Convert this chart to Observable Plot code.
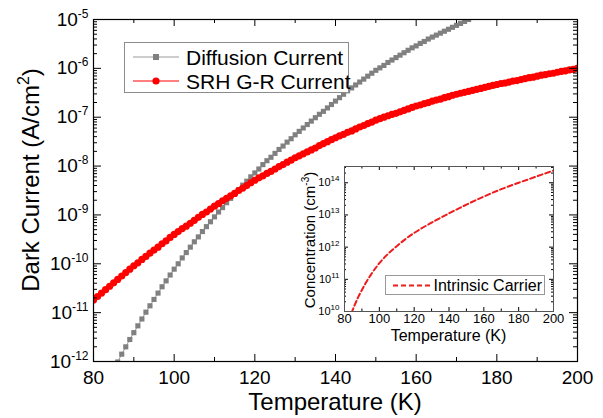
<!DOCTYPE html>
<html><head><meta charset="utf-8">
<script src="https://cdn.jsdelivr.net/npm/d3@7"></script>
<script src="https://cdn.jsdelivr.net/npm/@observablehq/plot@0.6"></script>
<style>
html,body{margin:0;padding:0;background:#fff;}
#wrap{position:relative;width:603px;height:418px;overflow:hidden;}
#inset{position:absolute;left:280px;top:150px;}
svg{display:block;}
</style></head><body>
<div id="wrap"><div id="main"></div><div id="inset"></div></div>
<script>
// ---------- data (log10 of the quantity) ----------
// Main chart: sampling grid in K (one marker per kelvin)
const srhStartT = 80;
// SRH G-R current, log10(A/cm^2), T = 80..200
const srhLog = [
 -10.74,-10.67,-10.60,-10.53,-10.46,-10.39,-10.32,-10.25,-10.18,-10.11,
 -10.04,-9.98,-9.91,-9.85,-9.78,-9.72,-9.66,-9.59,-9.53,-9.46,
 -9.40,-9.34,-9.28,-9.23,-9.17,-9.11,-9.05,-8.99,-8.94,-8.88,
 -8.82,-8.77,-8.71,-8.66,-8.61,-8.56,-8.50,-8.45,-8.40,-8.34,
 -8.29,-8.24,-8.20,-8.15,-8.11,-8.06,-8.01,-7.97,-7.92,-7.88,
 -7.83,-7.79,-7.75,-7.71,-7.67,-7.63,-7.58,-7.54,-7.50,-7.46,
 -7.42,-7.38,-7.35,-7.31,-7.28,-7.24,-7.20,-7.17,-7.13,-7.10,
 -7.06,-7.03,-7.00,-6.97,-6.94,-6.92,-6.89,-6.86,-6.83,-6.80,
 -6.77,-6.75,-6.72,-6.70,-6.67,-6.65,-6.63,-6.60,-6.58,-6.55,
 -6.53,-6.51,-6.49,-6.47,-6.45,-6.43,-6.41,-6.39,-6.37,-6.35,
 -6.33,-6.31,-6.30,-6.28,-6.26,-6.25,-6.23,-6.21,-6.19,-6.18,
 -6.16,-6.14,-6.13,-6.11,-6.10,-6.08,-6.06,-6.05,-6.03,-6.02,
 -6.00
];
const diffStartT = 86;
// Diffusion current, log10(A/cm^2), T = 86..173 (beyond the plotted range it is clipped)
const diffLog = [
 -12.01,-11.85,-11.70,-11.55,-11.41,-11.27,-11.13,-10.99,-10.86,-10.73,
 -10.60,-10.47,-10.35,-10.23,-10.11,-10.00,-9.88,-9.77,-9.66,-9.55,
 -9.45,-9.34,-9.24,-9.14,-9.04,-8.94,-8.85,-8.75,-8.66,-8.57,
 -8.48,-8.39,-8.31,-8.22,-8.14,-8.06,-7.97,-7.89,-7.82,-7.74,
 -7.66,-7.59,-7.51,-7.44,-7.36,-7.29,-7.22,-7.15,-7.08,-7.01,
 -6.94,-6.88,-6.81,-6.74,-6.67,-6.60,-6.53,-6.46,-6.40,-6.34,
 -6.28,-6.22,-6.16,-6.10,-6.04,-5.99,-5.94,-5.88,-5.83,-5.78,
 -5.73,-5.68,-5.63,-5.58,-5.54,-5.49,-5.45,-5.40,-5.36,-5.32,
 -5.28,-5.24,-5.20,-5.16,-5.12,-5.08,-5.04,-5.00
];
// Inset: intrinsic carrier concentration
const niT   = [84, 86, 88, 90, 92, 95, 100, 105, 110, 115, 120, 130, 140, 150, 160, 170, 180, 190, 200];
const niLog = [9.95,10.22,10.46,10.67,10.87,11.13,11.50,11.79,12.03,12.25,12.44,12.76,13.05,13.32,13.57,13.80,14.00,14.19,14.38];

// tick values and labels
const xMajor = [80, 100, 120, 140, 160, 180, 200];
const xMinor = [90, 110, 130, 150, 170, 190];
const yExp = [-12, -11, -10, -9, -8, -7, -6, -5];
const insetXMajor = [80, 100, 120, 140, 160, 180, 200];
const insetXMinor = [90, 110, 130, 150, 170, 190];
const insetYExp = [10, 11, 12, 13, 14];
const legendLabels = ["Diffusion Current", "SRH G-R Current"];
const insetLegendLabel = "Intrinsic Carrier";
const xTitle = "Temperature (K)";
const yTitle = ["Dark Current (A/cm", "2", ")"];
const insetXTitle = "Temperature (K)";
const insetYTitle = ["Concentration (cm", "-3", ")"];

// ---------- build tables ----------
const srhRows = srhLog.map((v, i) => ({T: srhStartT + i, J: Math.pow(10, v)}));
const diffRows = diffLog.map((v, i) => ({T: diffStartT + i, J: Math.pow(10, v)}));
const niRows = niT.map((t, i) => ({T: t, n: Math.pow(10, niLog[i])}));
const yMajor = yExp.map(e => Math.pow(10, e));
const yMinor = [];
for (const e of yExp.slice(0, -1)) for (let k = 2; k <= 9; k++) yMinor.push(k * Math.pow(10, e));
const iyMajor = insetYExp.map(e => Math.pow(10, e));
const iyMinor = [];
for (const e of insetYExp) for (let k = 2; k <= 9; k++) { const v = k * Math.pow(10, e); if (v < 3.2e14) iyMinor.push(v); }

const FONT = "'Liberation Sans', Arial, Helvetica, sans-serif";
const GRAY = "#808080", RED = "#ff0000";

// ---------- main chart ----------
const W = 603, H = 418, mL = 93, mR = 26, mT = 19, mB = 57;
const iW = W - mL - mR, iH = H - mT - mB;
const main = Plot.plot({
  width: W, height: H, marginLeft: mL, marginRight: mR, marginTop: mT, marginBottom: mB,
  style: {fontFamily: FONT, fontSize: "19px", color: "black", background: "white"},
  x: {domain: [80, 200]},
  y: {type: "log", domain: [1e-12, 1e-5]},
  marks: [
    Plot.line(diffRows, {x: "T", y: "J", stroke: "#9a9a9a", strokeWidth: 1, clip: true}),
    Plot.dot(diffRows, {x: "T", y: "J", symbol: "square", r: 2.9, fill: GRAY, stroke: "none", clip: true}),
    Plot.line(srhRows, {x: "T", y: "J", stroke: RED, strokeWidth: 1, clip: true}),
    Plot.dot(srhRows, {x: "T", y: "J", r: 3.6, fill: RED, stroke: "none", clip: true}),
    Plot.tickX(xMajor, {x: d => d, insetTop: iH - 7, stroke: "black"}),
    Plot.tickX(xMajor, {x: d => d, insetBottom: iH - 7, stroke: "black"}),
    Plot.tickX(xMinor, {x: d => d, insetTop: iH - 4, stroke: "black"}),
    Plot.tickX(xMinor, {x: d => d, insetBottom: iH - 4, stroke: "black"}),
    Plot.tickY(yMajor, {y: d => d, insetRight: iW - 8, stroke: "black"}),
    Plot.tickY(yMajor, {y: d => d, insetLeft: iW - 8, stroke: "black"}),
    Plot.tickY(yMinor, {y: d => d, insetRight: iW - 4, stroke: "black"}),
    Plot.tickY(yMinor, {y: d => d, insetLeft: iW - 4, stroke: "black"}),
    Plot.axisX({ticks: xMajor, tickSize: 0, tickPadding: 9, label: null, tickFormat: d => String(d)}),
    Plot.axisY({ticks: yMajor, tickSize: 0, tickPadding: 5, label: null, tickFormat: d => "10^" + Math.round(Math.log10(d))}),
    Plot.frame({stroke: "black", strokeWidth: 1.2})
  ]
});

function supify(svg, supSize, shift) {
  d3.select(svg).selectAll("text").each(function () {
    const m = this.textContent.match(/^10\^(-?\d+)$/);
    if (!m) return;
    this.textContent = "10";
    d3.select(this).append("tspan").attr("dy", -shift).attr("font-size", supSize).text(m[1]);
  });
}
supify(main, 12, 8);

const ms = d3.select(main);
// axis titles
ms.append("text").attr("x", 335).attr("y", 410).attr("text-anchor", "middle")
  .attr("font-family", FONT).attr("font-size", 24).attr("fill", "black").text(xTitle);
const yt = ms.append("text").attr("transform", "translate(39,180) rotate(-90)").attr("text-anchor", "middle")
  .attr("font-family", FONT).attr("font-size", 24).attr("fill", "black");
yt.append("tspan").text(yTitle[0]);
yt.append("tspan").attr("dy", -10).attr("font-size", 16).text(yTitle[1]);
yt.append("tspan").attr("dy", 10).text(yTitle[2]);

// legend
const lg = ms.append("g").attr("font-family", FONT).attr("font-size", 21).attr("fill", "black").attr("text-anchor", "start");
lg.append("rect").attr("x", 124.5).attr("y", 42.5).attr("width", 224).attr("height", 50)
  .attr("fill", "white").attr("stroke", "#8c8c8c").attr("stroke-width", 1);
lg.append("line").attr("x1", 133).attr("x2", 179).attr("y1", 57).attr("y2", 57).attr("stroke", "#9a9a9a").attr("stroke-width", 1);
lg.append("rect").attr("x", 153).attr("y", 54).attr("width", 6).attr("height", 6).attr("fill", GRAY);
lg.append("text").attr("x", 186).attr("y", 64.5).attr("text-anchor", "start").text(legendLabels[0]);
lg.append("line").attr("x1", 133).attr("x2", 179).attr("y1", 81).attr("y2", 81).attr("stroke", RED).attr("stroke-width", 1);
lg.append("circle").attr("cx", 156).attr("cy", 81).attr("r", 3.6).attr("fill", RED);
lg.append("text").attr("x", 186).attr("y", 88.5).attr("text-anchor", "start").text(legendLabels[1]);

document.getElementById("main").appendChild(main);

// ---------- inset ----------
const IW = 290, IH = 200, iML = 64, iMR = 17, iMT = 16, iMB = 39;
const inW = IW - iML - iMR, inH = IH - iMT - iMB;
const inset = Plot.plot({
  width: IW, height: IH, marginLeft: iML, marginRight: iMR, marginTop: iMT, marginBottom: iMB,
  style: {fontFamily: FONT, fontSize: "13px", color: "black", background: "transparent"},
  x: {domain: [80, 200]},
  y: {type: "log", domain: [1e10, 3.2e14]},
  marks: [
    Plot.frame({fill: "white"}),
    Plot.line(niRows, {x: "T", y: "n", stroke: "#ee1c1c", strokeWidth: 2, strokeDasharray: "5,3", curve: "monotone-x", clip: true}),
    Plot.tickX(insetXMajor, {x: d => d, insetTop: inH - 4, stroke: "black"}),
    Plot.tickX(insetXMajor, {x: d => d, insetBottom: inH - 4, stroke: "black"}),
    Plot.tickX(insetXMinor, {x: d => d, insetTop: inH - 2.5, stroke: "black"}),
    Plot.tickX(insetXMinor, {x: d => d, insetBottom: inH - 2.5, stroke: "black"}),
    Plot.tickY(iyMajor, {y: d => d, insetRight: inW - 4, stroke: "black"}),
    Plot.tickY(iyMajor, {y: d => d, insetLeft: inW - 4, stroke: "black"}),
    Plot.tickY(iyMinor, {y: d => d, insetRight: inW - 2, stroke: "black"}),
    Plot.tickY(iyMinor, {y: d => d, insetLeft: inW - 2, stroke: "black"}),
    Plot.axisX({ticks: insetXMajor, tickSize: 0, tickPadding: 2, label: null, tickFormat: d => String(d)}),
    Plot.axisY({ticks: iyMajor, tickSize: 0, tickPadding: 5, fontSize: 11, label: null, tickFormat: d => "10^" + Math.round(Math.log10(d))}),
    Plot.frame({stroke: "#555", strokeWidth: 1})
  ]
});
supify(inset, 8, 5);
const is = d3.select(inset);
is.append("text").attr("x", iML + inW / 2).attr("y", 191).attr("text-anchor", "middle")
  .attr("font-family", FONT).attr("font-size", 16).attr("fill", "black").text(insetXTitle);
const iyt = is.append("text").attr("transform", "translate(35,90) rotate(-90)").attr("text-anchor", "middle")
  .attr("font-family", FONT).attr("font-size", 15).attr("fill", "black");
iyt.append("tspan").text(insetYTitle[0]);
iyt.append("tspan").attr("dy", -6).attr("font-size", 10).text(insetYTitle[1]);
iyt.append("tspan").attr("dy", 6).text(insetYTitle[2]);
const il = is.append("g").attr("font-family", FONT).attr("font-size", 16).attr("fill", "black").attr("text-anchor", "start");
il.append("rect").attr("x", 105.5).attr("y", 125.5).attr("width", 159).attr("height", 19)
  .attr("fill", "white").attr("stroke", "#999").attr("stroke-width", 1);
il.append("line").attr("x1", 113).attr("x2", 150).attr("y1", 135.5).attr("y2", 135.5)
  .attr("stroke", "#ee1c1c").attr("stroke-width", 2).attr("stroke-dasharray", "5,3");
il.append("text").attr("x", 153.5).attr("y", 141.3).attr("text-anchor", "start").text(insetLegendLabel);
document.getElementById("inset").appendChild(inset);
</script>
</body></html>
